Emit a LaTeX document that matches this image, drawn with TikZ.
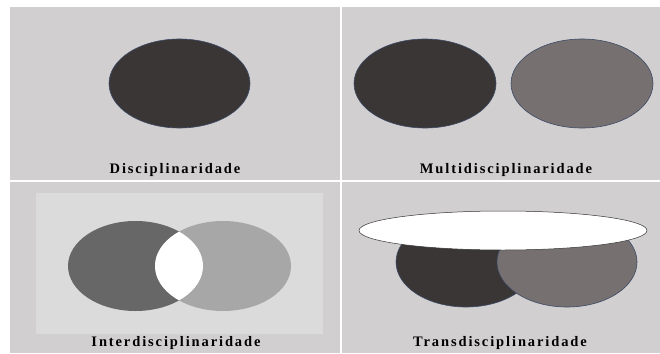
\documentclass[tikz,border=0pt]{standalone}
\usepackage{fontspec}
\setmainfont{Liberation Serif}
\usetikzlibrary{positioning}
\definecolor{panelgray}{HTML}{D1CFD0}
\definecolor{innergray}{HTML}{DBDBDB}
\definecolor{darkdisc}{HTML}{393635}
\definecolor{middisc}{HTML}{767170}
\definecolor{interleft}{HTML}{676767}
\definecolor{interright}{HTML}{A7A7A7}
\definecolor{rimblue}{HTML}{3C4A66}
\newfontfamily\spacedfont[LetterSpace=13]{Liberation Serif}

\begin{document}
\begin{tikzpicture}[
    x=1pt, y=-1pt,
    panel/.style={fill=panelgray, draw=none},
    darkset/.style={fill=darkdisc, draw=rimblue, line width=0.6pt},
    midset/.style={fill=middisc, draw=rimblue, line width=0.6pt},
    caption/.style={font=\spacedfont\bfseries\fontsize{14.5}{16}\selectfont, text=black, inner sep=0pt, anchor=base}
  ]
  \useasboundingbox[fill=white] (0,0) rectangle (660,353);
  % four panels
  \fill[panel] (10,7) rectangle (339.5,179.5);
  \fill[panel] (341.5,7) rectangle (660,179.5);
  \fill[panel] (10,181.5) rectangle (339.5,353);
  \fill[panel] (341.5,181.5) rectangle (660,353);

  % Disciplinaridade
  \draw[darkset] (179.5,83.5) ellipse [x radius=70.5pt, y radius=44.5pt];
  \node[caption] (disc) at (175,173) {Disciplinaridade};

  % Multidisciplinaridade
  \draw[darkset] (425,83.5) ellipse [x radius=71pt, y radius=44.5pt];
  \draw[midset] (582,83.5) ellipse [x radius=71pt, y radius=44.5pt];
  \node[caption] (multi) at (506,173) {Multidisciplinaridade};

  % Interdisciplinaridade
  \fill[innergray] (36,193) rectangle (323,334);
  \fill[interleft] (135.5,266) ellipse [x radius=67.5pt, y radius=45pt];
  \fill[interright] (223,266) ellipse [x radius=68pt, y radius=45pt];
  \begin{scope}
    \clip (135.5,266) ellipse [x radius=67.5pt, y radius=45pt];
    \fill[white] (223,266) ellipse [x radius=68pt, y radius=45pt];
  \end{scope}
  \node[caption] (inter) at (176,346) {Interdisciplinaridade};

  % Transdisciplinaridade
  \draw[darkset] (466,262) ellipse [x radius=70pt, y radius=45pt];
  \draw[midset] (567,262) ellipse [x radius=70pt, y radius=45pt];
  \draw[fill=white, draw=black!80, line width=0.5pt] (503,230.5) ellipse [x radius=144pt, y radius=19.5pt];
  \node[caption] (trans) at (500,346) {Transdisciplinaridade};
\end{tikzpicture}
\end{document}
